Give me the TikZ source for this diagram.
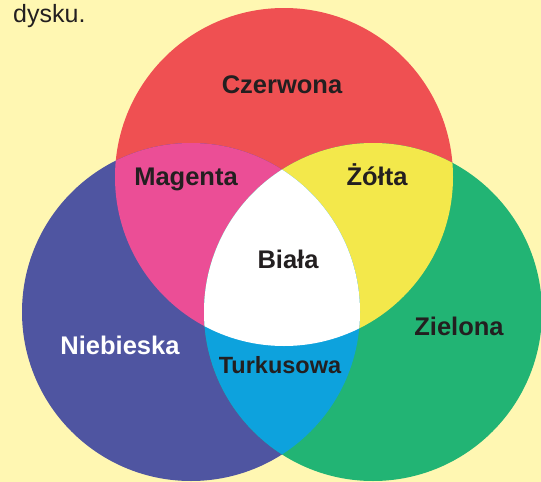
\documentclass[tikz,border=0pt]{standalone}
\usepackage{fontspec}
\setmainfont{Liberation Sans}
\usetikzlibrary{positioning}
\definecolor{paper}{RGB}{255,247,178}
\definecolor{redc}{RGB}{239,80,82}
\definecolor{bluec}{RGB}{79,85,161}
\definecolor{greenc}{RGB}{34,180,116}
\definecolor{magentac}{RGB}{235,78,150}
\definecolor{yellowc}{RGB}{243,232,75}
\definecolor{cyanc}{RGB}{13,162,221}
\definecolor{ink}{RGB}{35,31,32}
\tikzset{
  colorname/.style={font=\fontsize{25.5}{30}\selectfont\bfseries, text=ink, inner sep=0pt, anchor=base},
  plaintext/.style={font=\fontsize{25}{30}\selectfont, text=ink, inner sep=0pt, anchor=base west}
}

\begin{document}
\begin{tikzpicture}[x=1pt, y=-1pt]
  \fill[paper] (0,0) rectangle (541,482);
  \useasboundingbox (0,0) rectangle (541,482);
  \coordinate (r) at (284,177);
  \coordinate (b) at (191,312);
  \coordinate (g) at (373,312);
  % primary disks
  \fill[redc] (r) circle (169pt);
  \fill[bluec] (b) circle (169pt);
  \fill[greenc] (g) circle (169pt);
  % overlaps
  \begin{scope}
    \clip (r) circle (169pt);
    \fill[magentac] (b) circle (169pt);
    \fill[yellowc] (g) circle (169pt);
  \end{scope}
  \begin{scope}
    \clip (b) circle (169pt);
    \fill[cyanc] (g) circle (169pt);
    \clip (g) circle (169pt);
    \fill[white] (r) circle (169pt);
  \end{scope}
  % labels
  \node[plaintext] (top) at (13,22.5) {dysku.};
  \node[colorname] (czerwona) at (282,93) {Czerwona};
  \node[colorname] (magenta) at (186,185) {Magenta};
  \node[colorname] (zolta) at (377,185) {Żółta};
  \node[colorname] (biala) at (288,268) {Biała};
  \node[colorname, text=white] (niebieska) at (120,354) {Niebieska};
  \node[colorname, font=\fontsize{23.5}{28}\selectfont\bfseries] (turkusowa) at (280,373) {Turkusowa};
  \node[colorname] (zielona) at (459,335) {Zielona};
\end{tikzpicture}
\end{document}
